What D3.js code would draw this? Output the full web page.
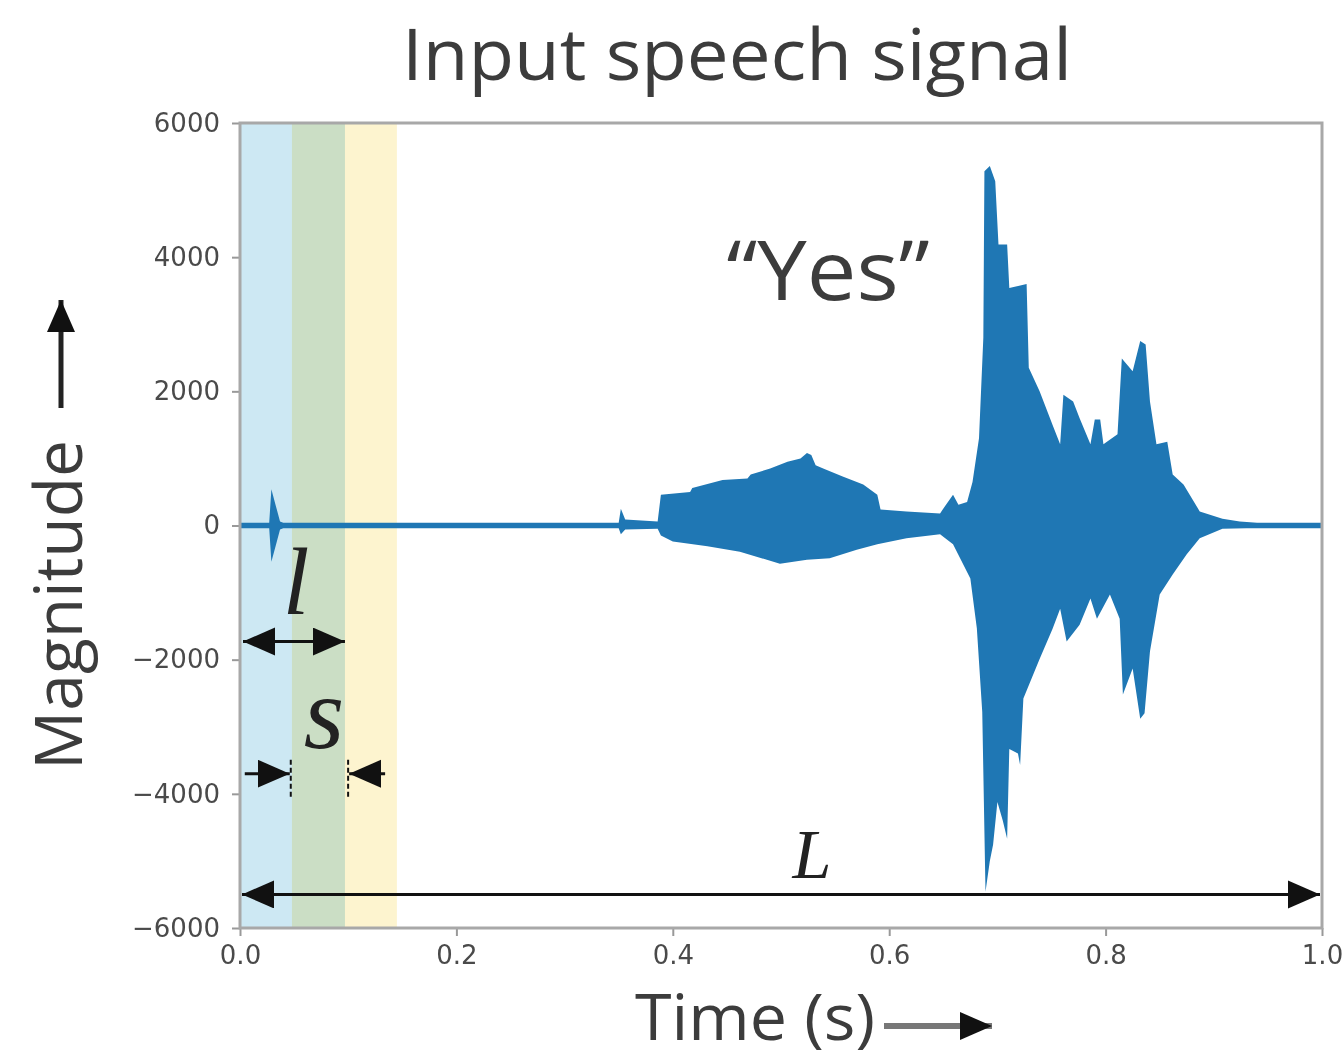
<!DOCTYPE html>
<html>
<head>
<meta charset="utf-8">
<script src="https://cdn.jsdelivr.net/npm/d3@7"></script>
<style>
  body { margin: 0; background: #fff; }
  svg { display: block; }
</style>
</head>
<body>
<svg id="chart" width="1343" height="1060"></svg>
<script>
// ---------- data ----------
var timeTicks = [0.0, 0.2, 0.4, 0.6, 0.8, 1.0];
var magTicks = [-6000, -4000, -2000, 0, 2000, 4000, 6000];

// analysis frames (length l, shift s)
var frames = [
  { start: 0.0,   end: 0.097, color: "#cde8f3" },
  { start: 0.048, end: 0.145, color: "#fdf4cf" }
];

// envelope of the waveform: [time (s), magnitude]
var upperEnv = [
  [0, 40], [0.027, 40], [0.029, 540], [0.033, 300], [0.037, 60], [0.04, 40],
  [0.35, 40], [0.352, 250], [0.356, 90], [0.386, 60], [0.389, 460],
  [0.416, 500], [0.418, 560], [0.446, 680], [0.469, 700], [0.472, 760],
  [0.49, 850], [0.506, 950], [0.518, 1000], [0.524, 1080], [0.528, 1050],
  [0.532, 900], [0.539, 850], [0.557, 730], [0.576, 610], [0.589, 460],
  [0.592, 240], [0.616, 210], [0.647, 180], [0.652, 300], [0.659, 460],
  [0.664, 310], [0.672, 350], [0.677, 650], [0.683, 1300], [0.687, 2800],
  [0.688, 5280], [0.693, 5360], [0.698, 5130], [0.701, 4190], [0.709, 4190],
  [0.711, 3540], [0.727, 3600], [0.729, 2350], [0.739, 2000], [0.751, 1500],
  [0.758, 1210], [0.761, 1950], [0.77, 1850], [0.776, 1600], [0.786, 1210],
  [0.79, 1580], [0.795, 1580], [0.798, 1210], [0.811, 1360], [0.815, 2490],
  [0.825, 2300], [0.832, 2750], [0.837, 2700], [0.841, 1850], [0.847, 1210],
  [0.857, 1250], [0.862, 760], [0.872, 610], [0.887, 210], [0.908, 100],
  [0.924, 60], [0.94, 40], [1.0, 40]
];
var lowerEnv = [
  [0, -40], [0.027, -40], [0.029, -540], [0.033, -300], [0.037, -60], [0.04, -40],
  [0.35, -40], [0.352, -130], [0.356, -60], [0.386, -50], [0.389, -150],
  [0.4, -240], [0.432, -310], [0.462, -390], [0.499, -570], [0.524, -510],
  [0.545, -490], [0.57, -360], [0.589, -280], [0.616, -190], [0.647, -130],
  [0.659, -280], [0.675, -790], [0.681, -1530], [0.686, -2780], [0.689, -5460],
  [0.693, -5000], [0.696, -4760], [0.7, -4120], [0.705, -4400], [0.709, -4670],
  [0.711, -3330], [0.719, -3400], [0.721, -3570], [0.724, -2580], [0.739, -1990],
  [0.751, -1540], [0.758, -1240], [0.764, -1730], [0.776, -1480], [0.786, -1090],
  [0.792, -1390], [0.804, -1030], [0.813, -1390], [0.816, -2520], [0.825, -2130],
  [0.832, -2880], [0.836, -2800], [0.841, -1880], [0.85, -1030], [0.862, -730],
  [0.875, -430], [0.887, -190], [0.908, -50], [0.93, -40], [1.0, -40]
];

// annotation arrows (data coords)
var lArrow = { from: 0.0, to: 0.097, v: -1730 };
var sArrow = { left: 0.046, right: 0.099, v: -3700 };
var bigL = { from: 0.0, to: 1.0, v: -5500 };

// ---------- layout ----------
var svg = d3.select("#chart");
var x = d3.scaleLinear().domain([0, 1]).range([240, 1322]);
var y = d3.scaleLinear().domain([-6000, 6000]).range([928, 123]);

var textFont = "'Open Sans', 'Noto Sans', sans-serif";
var mathFont = "'Liberation Serif', 'DejaVu Serif', serif";
var inkBlue = "#1f77b4";

// arrowhead marker
var defs = svg.append("defs");
defs.append("marker")
    .attr("id", "head")
    .attr("markerUnits", "userSpaceOnUse")
    .attr("markerWidth", 34).attr("markerHeight", 30)
    .attr("refX", 32).attr("refY", 14)
    .attr("orient", "auto-start-reverse")
    .append("path")
    .attr("d", "M0,0 L32,14 L0,28 Z")
    .attr("fill", "#111");

// frames
svg.append("g").selectAll("rect")
    .data(frames)
    .enter().append("rect")
    .attr("x", function(d) { return x(d.start); })
    .attr("width", function(d) { return x(d.end) - x(d.start); })
    .attr("y", y(6000))
    .attr("height", y(-6000) - y(6000))
    .style("fill", function(d) { return d.color; })
    .style("mix-blend-mode", "multiply");

// waveform
var wave = svg.append("g");
var area = d3.area()
    .x(function(d) { return x(d[0]); })
    .y0(y(0))
    .y1(function(d) { return y(d[1]); });
wave.append("path").datum(upperEnv).attr("d", area).style("fill", inkBlue);
wave.append("path").datum(lowerEnv).attr("d", area).style("fill", inkBlue);
wave.append("line")
    .attr("x1", x(0)).attr("x2", x(1))
    .attr("y1", y(0)).attr("y2", y(0))
    .style("stroke", inkBlue).style("stroke-width", 3);

// axes
var yAxis = svg.append("g")
    .attr("transform", "translate(" + x(0) + ",0)")
    .call(d3.axisLeft(y).tickValues(magTicks).tickSize(8).tickPadding(12)
      .tickFormat(function(d) { return d < 0 ? "\u2212" + Math.abs(d) : d; }));
var xAxis = svg.append("g")
    .attr("transform", "translate(0," + y(-6000) + ")")
    .call(d3.axisBottom(x).tickValues(timeTicks).tickSize(8).tickPadding(10)
      .tickFormat(d3.format(".1f")));
[yAxis, xAxis].forEach(function(a) {
  a.select(".domain").remove();
  a.selectAll(".tick line").style("stroke", "#999").style("stroke-width", 2);
  a.selectAll(".tick text")
    .style("font-family", "'DejaVu Sans', sans-serif")
    .style("font-size", "26px")
    .style("fill", "#4a4a4a");
});

// frame box
svg.append("rect")
    .attr("x", x(0)).attr("y", y(6000))
    .attr("width", x(1) - x(0)).attr("height", y(-6000) - y(6000))
    .style("fill", "none").style("stroke", "#a8a8a8").style("stroke-width", 3);

// annotations
var ann = svg.append("g").style("stroke", "#111").style("stroke-width", 3);
ann.append("line")
    .attr("x1", x(lArrow.from) + 3).attr("x2", x(lArrow.to))
    .attr("y1", y(lArrow.v)).attr("y2", y(lArrow.v))
    .attr("marker-start", "url(#head)").attr("marker-end", "url(#head)");
ann.append("line")
    .attr("x1", x(bigL.from) + 2).attr("x2", x(bigL.to) - 2)
    .attr("y1", y(bigL.v)).attr("y2", y(bigL.v))
    .attr("marker-start", "url(#head)").attr("marker-end", "url(#head)");
ann.append("line")
    .attr("x1", x(sArrow.left) - 45).attr("x2", x(sArrow.left))
    .attr("y1", y(sArrow.v)).attr("y2", y(sArrow.v))
    .attr("marker-end", "url(#head)");
ann.append("line")
    .attr("x1", x(sArrow.right) + 38).attr("x2", x(sArrow.right) + 2)
    .attr("y1", y(sArrow.v)).attr("y2", y(sArrow.v))
    .attr("marker-end", "url(#head)");
[sArrow.left, sArrow.right].forEach(function(t) {
  ann.append("line")
    .attr("x1", x(t) + 1).attr("x2", x(t) + 1)
    .attr("y1", y(sArrow.v) - 14).attr("y2", y(sArrow.v) + 26)
    .style("stroke-width", 2).style("stroke-dasharray", "5,3");
});

function mathLabel(txt, px, py, size) {
  svg.append("text")
    .attr("x", px).attr("y", py)
    .attr("text-anchor", "middle")
    .style("font-family", mathFont)
    .style("font-style", "italic")
    .style("font-size", size + "px")
    .style("fill", "#222")
    .text(txt);
}
mathLabel("l", 296, 614, 96);
mathLabel("s", 324, 748, 104);
mathLabel("L", 812, 878, 70);

// word label
svg.append("text")
    .attr("x", 828).attr("y", 300)
    .attr("text-anchor", "middle")
    .attr("textLength", 203).attr("lengthAdjust", "spacingAndGlyphs")
    .style("font-family", textFont).style("font-size", "82px")
    .style("fill", "#3c3c3c")
    .text("\u201cYes\u201d");

// title
svg.append("text")
    .attr("x", 737).attr("y", 80)
    .attr("text-anchor", "middle")
    .attr("textLength", 670).attr("lengthAdjust", "spacingAndGlyphs")
    .style("font-family", textFont).style("font-size", "72px")
    .style("fill", "#3c3c3c")
    .text("Input speech signal");

// axis titles
svg.append("text")
    .attr("transform", "translate(82,605) rotate(-90)")
    .attr("text-anchor", "middle")
    .attr("textLength", 330).attr("lengthAdjust", "spacingAndGlyphs")
    .style("font-family", textFont).style("font-size", "66px")
    .style("fill", "#3c3c3c")
    .text("Magnitude");
svg.append("line")
    .attr("x1", 61).attr("x2", 61).attr("y1", 408).attr("y2", 300)
    .style("stroke", "#222").style("stroke-width", 5)
    .attr("marker-end", "url(#head)");

svg.append("text")
    .attr("x", 755).attr("y", 1040)
    .attr("text-anchor", "middle")
    .attr("textLength", 240).attr("lengthAdjust", "spacingAndGlyphs")
    .style("font-family", textFont).style("font-size", "64px")
    .style("fill", "#3c3c3c")
    .text("Time (s)");
svg.append("line")
    .attr("x1", 884).attr("x2", 992).attr("y1", 1026).attr("y2", 1026)
    .style("stroke", "#777").style("stroke-width", 6)
    .attr("marker-end", "url(#head)");
</script>
</body>
</html>
